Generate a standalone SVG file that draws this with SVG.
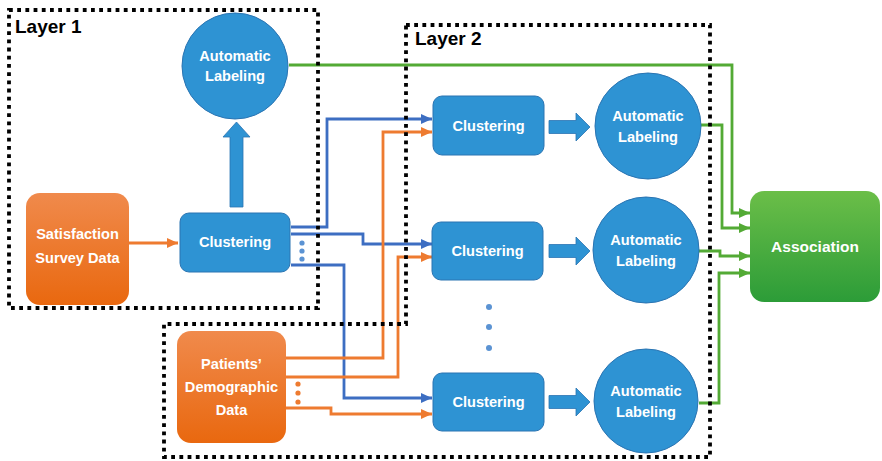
<svg xmlns="http://www.w3.org/2000/svg" width="882" height="461" viewBox="0 0 882 461">
<style>
.node{fill:#2E93D3;stroke:#2A74B2;stroke-width:1}
.t{font-family:"Liberation Sans",Arial,sans-serif;font-weight:bold;font-size:14.6px;fill:#ffffff;text-anchor:middle}
.lay{font-family:"Liberation Sans",Arial,sans-serif;font-weight:bold;font-size:19px;fill:#000000}
.blue{fill:none;stroke:#3D6EC2;stroke-width:2.8;marker-end:url(#mb)}
.orange{fill:none;stroke:#EE7B30;stroke-width:2.8;marker-end:url(#mo)}
.green{fill:none;stroke:#53AA35;stroke-width:2.8;marker-end:url(#mg)}
.dot{fill:none;stroke:#000000;stroke-width:3.8;stroke-dasharray:3.8 4.4}
.barrow{fill:#2E93D3;stroke:#2A74B2;stroke-width:0.8}
</style>
<defs>
<linearGradient id="gOr" x1="0" y1="0" x2="0" y2="1">
<stop offset="0" stop-color="#F08A4C"/>
<stop offset="1" stop-color="#E9680F"/>
</linearGradient>
<linearGradient id="gGr" x1="0" y1="0" x2="0" y2="1">
<stop offset="0" stop-color="#6BBE48"/>
<stop offset="1" stop-color="#2C9C38"/>
</linearGradient>
<marker id="mb" markerUnits="userSpaceOnUse" markerWidth="11" markerHeight="10" refX="11" refY="5" orient="auto"><path d="M0,0 L11,5 L0,10 z" fill="#3D6EC2"/></marker>
<marker id="mo" markerUnits="userSpaceOnUse" markerWidth="11" markerHeight="10" refX="11" refY="5" orient="auto"><path d="M0,0 L11,5 L0,10 z" fill="#EE7B30"/></marker>
<marker id="mg" markerUnits="userSpaceOnUse" markerWidth="11" markerHeight="10" refX="11" refY="5" orient="auto"><path d="M0,0 L11,5 L0,10 z" fill="#53AA35"/></marker>
<path id="harrow" d="M0,-6.5 L27,-6.5 L27,-14 L41,0 L27,14 L27,6.5 L0,6.5 z"/>
</defs>
<rect width="882" height="461" fill="#ffffff"/>

<g id="connectors">
<path class="blue" d="M291,227 H327 V119 H432"/>
<path class="blue" d="M291,234 H363 V244 H432"/>
<path class="blue" d="M291,265 H344 V398 H432"/>
<path class="orange" d="M129,243 H178"/>
<path class="orange" d="M286,358 H383 V132 H432"/>
<path class="orange" d="M286,377 H398 V257 H432"/>
<path class="orange" d="M286,408 H331 V414 H432"/>
<path class="green" d="M289,65 H732 V213 H750"/>
<path class="green" d="M701,125 H722 V228 H750"/>
<path class="green" d="M699,251 H720 V256 H750"/>
<path class="green" d="M699,403 H719 V273 H750"/>
<path class="barrow" d="M230,207 V137 H223 L236.5,122 L250,137 H243 V207 z"/>
<use href="#harrow" class="barrow" x="549" y="127"/>
<use href="#harrow" class="barrow" x="549" y="251"/>
<use href="#harrow" class="barrow" x="549" y="402"/>
<g fill="#5B93D3">
<circle cx="302" cy="243" r="2.6"/><circle cx="302" cy="251" r="2.6"/><circle cx="302" cy="259" r="2.6"/>
<circle cx="489" cy="307" r="3"/><circle cx="489" cy="327" r="3"/><circle cx="489" cy="348" r="3"/>
</g>
<g fill="#EE7B30">
<circle cx="298" cy="384" r="2.6"/><circle cx="298" cy="393" r="2.6"/><circle cx="298" cy="402" r="2.6"/>
</g>
</g>

<g id="survey">
<rect x="26" y="193" width="103" height="112" rx="14" fill="url(#gOr)"/>
<text class="t" x="77.5" y="239">Satisfaction</text>
<text class="t" x="77.5" y="263">Survey Data</text>
</g>
<g id="clustering1">
<rect class="node" x="180" y="213" width="110" height="59" rx="9"/>
<text class="t" x="235" y="247">Clustering</text>
</g>
<g id="labeling1">
<circle class="node" cx="235" cy="66" r="53"/>
<text class="t" x="235" y="61">Automatic</text>
<text class="t" x="235" y="81">Labeling</text>
</g>
<g id="demographic">
<rect x="177" y="331" width="109" height="112" rx="14" fill="url(#gOr)"/>
<text class="t" x="231.5" y="369">Patients’</text>
<text class="t" x="231.5" y="392">Demographic</text>
<text class="t" x="231.5" y="415">Data</text>
</g>
<g id="clustering2a">
<rect class="node" x="433" y="96" width="111" height="59" rx="9"/>
<text class="t" x="488.5" y="131">Clustering</text>
</g>
<g id="labeling2a">
<circle class="node" cx="648" cy="126" r="53"/>
<text class="t" x="648" y="121">Automatic</text>
<text class="t" x="648" y="142">Labeling</text>
</g>
<g id="clustering2b">
<rect class="node" x="432" y="222" width="111" height="58" rx="9"/>
<text class="t" x="487.5" y="256">Clustering</text>
</g>
<g id="labeling2b">
<circle class="node" cx="646" cy="250" r="53"/>
<text class="t" x="646" y="245">Automatic</text>
<text class="t" x="646" y="266">Labeling</text>
</g>
<g id="clustering2c">
<rect class="node" x="433" y="373" width="111" height="58" rx="9"/>
<text class="t" x="488.5" y="407">Clustering</text>
</g>
<g id="labeling2c">
<circle class="node" cx="646" cy="401" r="52"/>
<text class="t" x="646" y="396">Automatic</text>
<text class="t" x="646" y="417">Labeling</text>
</g>
<g id="association">
<rect x="750" y="191" width="130" height="111" rx="14" fill="url(#gGr)"/>
<text class="t" x="815" y="252" style="font-size:15.5px">Association</text>
</g>

<g id="layer1">
<rect class="dot" x="9" y="10" width="309" height="298"/>
<text class="lay" x="15" y="33">Layer 1</text>
</g>
<g id="layer2">
<path class="dot" d="M406,25 H710 V457 H164 V324 H406 z"/>
<text class="lay" x="415" y="45">Layer 2</text>
</g>
</svg>
